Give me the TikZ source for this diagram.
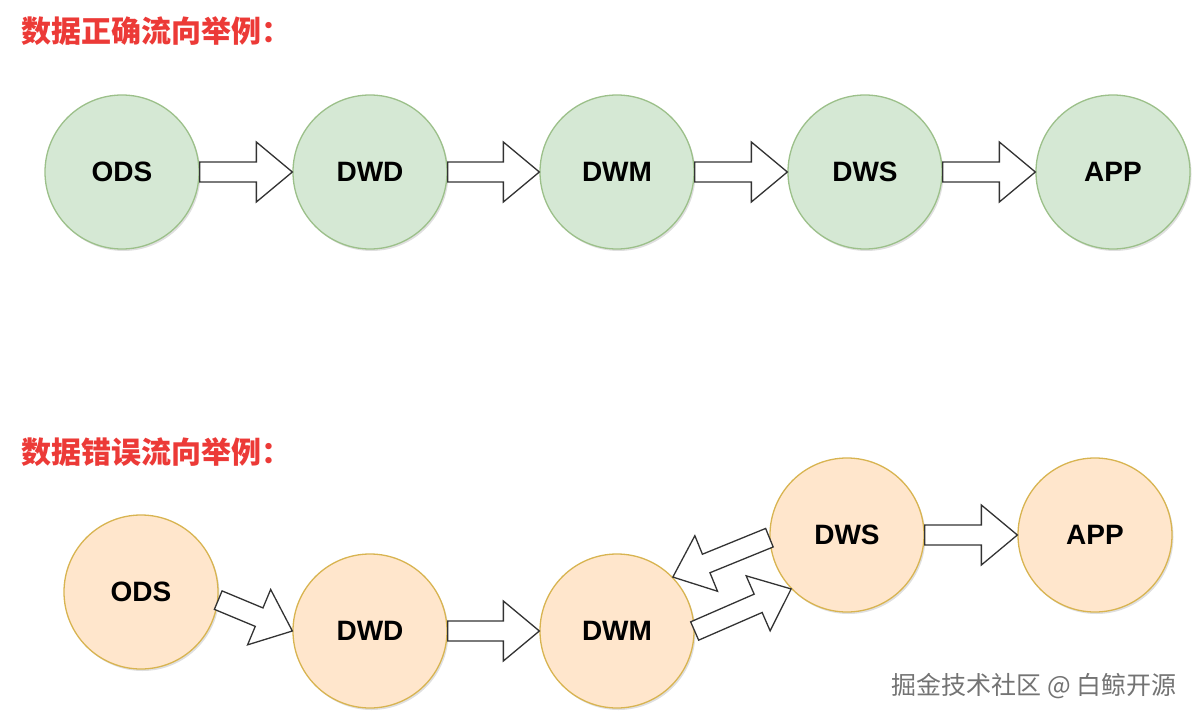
\documentclass[tikz,border=0pt]{standalone}
\usepackage{fontspec}
\setmainfont{Liberation Sans}
\newfontfamily\cjk{Noto Sans CJK SC}
\usetikzlibrary{calc, shadows}

\definecolor{greenfill}{HTML}{D5E8D4}
\definecolor{greenline}{HTML}{9CC08A}
\definecolor{orangefill}{HTML}{FFE6CC}
\definecolor{orangeline}{HTML}{D8B451}
\definecolor{titlered}{HTML}{EC3A37}
\definecolor{arrowline}{HTML}{333333}

\tikzset{
	layer/.style={circle, line width=1.3pt, minimum size=154pt, inner sep=0pt,
		font=\fontsize{28}{28}\selectfont\bfseries,
		drop shadow={shadow xshift=1.5pt, shadow yshift=-2pt, opacity=0.25, fill=black!50}},
	good/.style={layer, fill=greenfill, draw=greenline},
	bad/.style={layer, fill=orangefill, draw=orangeline},
	blk/.style={draw=arrowline, fill=white, line width=1.3pt},
	title/.style={anchor=west, text=titlered, font=\cjk\fontsize{30}{30}\selectfont\bfseries},
	mark text/.style={anchor=west, text=black!55, font=\cjk\fontsize{25}{25}\selectfont}
}

\newcommand{\blockarrow}[2]{%
	\coordinate (ba1) at (#1); \coordinate (ba2) at (#2);
	\coordinate (bah) at ($(ba2)!36pt!(ba1)$);
	\draw[blk] ($(ba1)!10pt!90:(ba2)$) -- ($(bah)!10pt!-90:(ba1)$) -- ($(bah)!30pt!-90:(ba1)$) -- (ba2)
		-- ($(bah)!30pt!90:(ba1)$) -- ($(bah)!10pt!90:(ba1)$) -- ($(ba1)!10pt!-90:(ba2)$) -- cycle;}

\begin{document}
\begin{tikzpicture}[x=1pt, y=-1pt]
	\useasboundingbox (0,0) rectangle (1200,720);

	\node[title] (t1) at (18,31) {数据正确流向举例：};
	\node[good] (ods1) at (122,172) {ODS};
	\node[good] (dwd1) at (370,172) {DWD};
	\node[good] (dwm1) at (617,172) {DWM};
	\node[good] (dws1) at (865,172) {DWS};
	\node[good] (app1) at (1113,172) {APP};
	\blockarrow{ods1.east}{dwd1.west}
	\blockarrow{dwd1.east}{dwm1.west}
	\blockarrow{dwm1.east}{dws1.west}
	\blockarrow{dws1.east}{app1.west}

	\node[title] (t2) at (18,452) {数据错误流向举例：};
	\node[bad] (ods2) at (141,592) {ODS};
	\node[bad] (dwd2) at (370,631) {DWD};
	\node[bad] (dwm2) at (617,631) {DWM};
	\node[bad] (dws2) at (847,535) {DWS};
	\node[bad] (app2) at (1095,535) {APP};
	\blockarrow{ods2.-6}{dwd2.west}
	\blockarrow{dwd2.east}{dwm2.west}
	\blockarrow{dwm2.east}{dws2.224}
	\blockarrow{dws2.182}{dwm2.44}
	\blockarrow{dws2.east}{app2.west}

	\node[mark text] (wm) at (888,686) {掘金技术社区 @ 白鲸开源};
\end{tikzpicture}
\end{document}
